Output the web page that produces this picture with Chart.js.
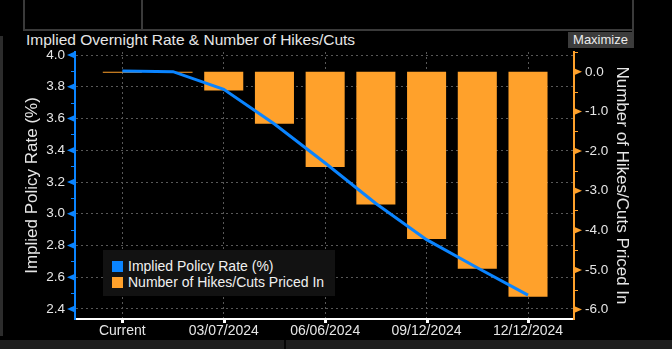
<!DOCTYPE html>
<html>
<head>
<meta charset="utf-8">
<script src="https://cdn.jsdelivr.net/npm/chart.js@4.4.0/dist/chart.umd.min.js"></script>
<style>
    body { margin: 0; background: #000; width: 672px; height: 349px; overflow: hidden; position: relative; font-family: 'Liberation Sans', Arial, sans-serif; }
    canvas { position: absolute; left: 0; top: 0; }
    .frame { position: absolute; background: #3a3a3a; }
    #title { position: absolute; left: 26px; top: 31px; font-size: 15.5px; line-height: 18px; color: #e6e6e6; white-space: nowrap; }
    #maximize { position: absolute; left: 568px; top: 32px; width: 65px; height: 16px; background: #3c3c3c; color: #ececec; font-size: 13px; line-height: 16px; text-align: center; }
    #legend { position: absolute; left: 103px; top: 250px; width: 232px; height: 46px; background: #121212; box-sizing: border-box; padding: 8px 0 0 9px; }
    .item { height: 16px; line-height: 16px; font-size: 14px; color: #f0f0f0; display: flex; align-items: center; white-space: nowrap; }
    .swatch { width: 11px; height: 11px; margin-right: 5px; }
    #bottomBar { position: absolute; left: 0; top: 340px; width: 672px; height: 9px; background: #1e1e1e; }
    #divider { position: absolute; left: 284px; top: 340px; width: 2px; height: 9px; background: #050505; }
    #leftStrip { position: absolute; left: 0; top: 36px; width: 3px; height: 300px; background: #2c2c2c; }
</style>
</head>
<body>
<div class="frame" style="left:23px;top:0;width:2px;height:30px"></div>
<div class="frame" style="left:141px;top:0;width:2px;height:30px"></div>
<div class="frame" style="left:23px;top:29px;width:611px;height:2px"></div>
<div class="frame" style="left:632px;top:0;width:2px;height:48px"></div>
<div id="leftStrip"></div>
<div id="title">Implied Overnight Rate &amp; Number of Hikes/Cuts</div>
<div id="maximize">Maximize</div>
<canvas id="chart" width="672" height="349"></canvas>
<div id="legend"></div>
<div id="bottomBar"></div>
<div id="divider"></div>
<script>
// meeting dates (ECB 2024) and values
const categories = ['Current', '01/25/2024', '03/07/2024', '04/11/2024', '06/06/2024', '07/18/2024', '09/12/2024', '10/17/2024', '12/12/2024'];
const policyRate = [3.900, 3.895, 3.784, 3.565, 3.320, 3.065, 2.837, 2.660, 2.487];
const hikesCuts = [-0.025, -0.025, -0.47, -1.31, -2.40, -3.35, -4.22, -4.97, -5.68];
const seriesNames = ['Implied Policy Rate (%)', 'Number of Hikes/Cuts Priced In'];

const BLUE = '#0a84ff';
const ORANGE = '#ffa12b';
const GRID = '#585858';
const TEXT = '#e6e6e6';

Chart.defaults.font.family = "'Liberation Sans', Arial, sans-serif";
Chart.defaults.color = TEXT;

// legend box inside the plot
const legend = document.getElementById('legend');
[BLUE, ORANGE].forEach((c, i) => {
    legend.innerHTML += `<div class="item"><span class="swatch" style="background:${c}"></span>${seriesNames[i]}</div>`;
});

// triangle ticks on the value axes, small squares on the date axis
const tickMarks = {
    id: 'tickMarks',
    afterDraw(chart) {
        const { ctx, scales: { x, y, y1 } } = chart;
        ctx.save();

        const drawSide = (scale, color, dir) => {
            const edge = dir < 0 ? scale.right : scale.left;
            ctx.fillStyle = color;
            ctx.strokeStyle = color;
            ctx.lineWidth = 1;
            const vals = scale.ticks.map(t => t.value);
            const step = vals[1] - vals[0];
            vals.forEach(v => {
                const py = scale.getPixelForValue(v);
                ctx.beginPath();
                ctx.moveTo(edge, py - 3.5);
                ctx.lineTo(edge + dir * 8, py);
                ctx.lineTo(edge, py + 3.5);
                ctx.closePath();
                ctx.fill();
            });
            // minor ticks half way
            const minors = [vals[0] - step / 2, ...vals.map(v => v + step / 2)];
            minors.forEach(v => {
                if (v < scale.min || v > scale.max) return;
                const py = Math.round(scale.getPixelForValue(v)) + 0.5;
                ctx.beginPath();
                ctx.moveTo(edge, py);
                ctx.lineTo(edge + dir * 4, py);
                ctx.stroke();
            });
        };
        drawSide(y, BLUE, -1);
        drawSide(y1, ORANGE, 1);

        ctx.fillStyle = '#ffffff';
        x.ticks.forEach(t => {
            const px = x.getPixelForValue(t.value);
            ctx.fillRect(Math.round(px) - 1, x.top + 1, 3, 3);
        });
        ctx.restore();
    }
};

new Chart(document.getElementById('chart'), {
    type: 'bar',
    data: {
        datasets: [
            {
                type: 'line',
                label: seriesNames[0],
                data: policyRate.map((v, i) => ({ x: i, y: v })),
                yAxisID: 'y',
                borderColor: BLUE,
                borderWidth: 3,
                pointRadius: 0,
                tension: 0,
                order: 0
            },
            {
                type: 'bar',
                label: seriesNames[1],
                data: hikesCuts.map((v, i) => ({ x: i, y: v })),
                yAxisID: 'y1',
                backgroundColor: ORANGE,
                categoryPercentage: 1,
                barPercentage: 0.77,
                order: 1
            }
        ]
    },
    options: {
        responsive: false,
        animation: false,
        layout: { padding: { top: 52, left: 0, right: 0, bottom: 0 } },
        plugins: {
            legend: { display: false },
            tooltip: { enabled: false }
        },
        scales: {
            x: {
                type: 'linear',
                position: 'bottom',
                min: -0.933,
                max: 8.907,
                offset: false,
                grid: { offset: false, color: GRID, drawTicks: false },
                border: { color: '#ffffff', width: 2, dash: [2, 3] },
                ticks: {
                    stepSize: 2,
                    includeBounds: false,
                    autoSkip: false,
                    maxRotation: 0,
                    padding: 4,
                    color: TEXT,
                    font: { size: 14 },
                    callback: v => categories[v] ?? ''
                },
                afterFit: s => { s.height = 30; }
            },
            y: {
                type: 'linear',
                position: 'left',
                min: 2.337,
                max: 4.019,
                grid: { color: GRID, drawTicks: false },
                border: { color: BLUE, width: 2, dash: [2, 3] },
                ticks: {
                    stepSize: 0.2,
                    includeBounds: false,
                    padding: 10,
                    color: TEXT,
                    font: { size: 13.5 },
                    callback: v => v.toFixed(1)
                },
                title: { display: true, text: seriesNames[0], color: TEXT, font: { size: 17 }, padding: { top: 22 } },
                afterFit: s => { s.width = 75; }
            },
            y1: {
                type: 'linear',
                position: 'right',
                min: -6.24,
                max: 0.5,
                grid: { display: false, drawTicks: false },
                border: { color: ORANGE, width: 2 },
                ticks: {
                    stepSize: 1,
                    includeBounds: false,
                    padding: 11,
                    color: TEXT,
                    font: { size: 13.5 },
                    callback: v => v.toFixed(1)
                },
                title: { display: true, text: seriesNames[1], color: TEXT, font: { size: 17 }, padding: { top: 40 } },
                afterFit: s => { s.width = 98; }
            }
        }
    },
    plugins: [tickMarks]
});
</script>
</body>
</html>
